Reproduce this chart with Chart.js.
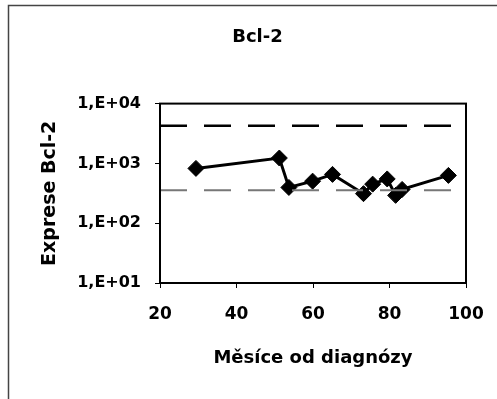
<!DOCTYPE html>
<html>
<head>
<meta charset="utf-8">
<script src="https://cdn.jsdelivr.net/npm/chart.js@4"></script>
<style>
	html, body { margin: 0; padding: 0; background: #fff; }
	#wrap { width: 497px; height: 399px; }
</style>
</head>
<body>
<div id="wrap"><canvas id="chart" width="497" height="399"></canvas></div>
<script>
const months = [29.4, 51.2, 53.7, 59.9, 65.1, 73.2, 75.6, 79.4, 81.6, 83.3, 95.4];
const expression = [825, 1230, 396, 505, 655, 312, 450, 550, 292, 367, 630];
const upperLimit = 4250;
const lowerLimit = 357;
const xTicks = [20, 40, 60, 80, 100];
const yTicks = [10, 100, 1000, 10000];
const yTickLabels = ["1,E+01", "1,E+02", "1,E+03", "1,E+04"];

const FONT = "'DejaVu Sans', sans-serif";

const points = months.map((m, i) => ({ x: m, y: expression[i] }));
const limitLine = (v) => [
	{ x: xTicks[0], y: v },
	{ x: xTicks[xTicks.length - 1], y: v },
];

// frame around the whole picture and box around the plot
const framePlugin = {
	id: "frames",
	beforeDraw(chart) {
		const ctx = chart.ctx;
		ctx.save();
		ctx.strokeStyle = "#444";
		ctx.lineWidth = 1.5;
		ctx.beginPath();
		ctx.moveTo(8.5, 399);
		ctx.lineTo(8.5, 5.5);
		ctx.lineTo(497, 5.5);
		ctx.stroke();
		ctx.restore();
	},
	afterDatasetsDraw(chart) {
		const { left, top, right, bottom } = chart.chartArea;
		const ctx = chart.ctx;
		ctx.save();
		ctx.strokeStyle = "#000";
		ctx.lineWidth = 2;
		ctx.strokeRect(left, top, right - left, bottom - top);
		ctx.restore();
	},
};

new Chart(document.getElementById("chart"), {
	type: "scatter",
	data: {
		datasets: [
			{
				data: limitLine(upperLimit),
				showLine: true,
				borderColor: "#000",
				borderWidth: 2.5,
				borderDash: [27, 17],
				pointRadius: 0,
			},
			{
				data: limitLine(lowerLimit),
				showLine: true,
				borderColor: "#777",
				borderWidth: 2,
				borderDash: [27, 17],
				pointRadius: 0,
			},
			{
				data: points,
				showLine: true,
				borderColor: "#000",
				borderWidth: 3,
				pointStyle: "rectRot",
				pointRadius: 8,
				pointBackgroundColor: "#000",
				pointBorderColor: "#000",
				pointBorderWidth: 1,
			},
		],
	},
	options: {
		responsive: false,
		animation: false,
		layout: { padding: { left: 18, right: 0, top: 0, bottom: 0 } },
		plugins: {
			legend: { display: false },
			tooltip: { enabled: false },
			title: {
				display: true,
				text: "Bcl-2",
				color: "#000",
				font: { family: FONT, size: 18, weight: "bold" },
				padding: { top: 27, bottom: 55 },
			},
		},
		scales: {
			x: {
				type: "linear",
				min: 20,
				max: 100,
				afterBuildTicks: (scale) => {
					scale.ticks = xTicks.map((v) => ({ value: v }));
				},
				afterFit: (scale) => {
					scale.height = 116;
					// leave the same empty strip on the right as the reference
					scale.paddingRight = 31;
				},
				grid: {
					drawOnChartArea: false,
					drawTicks: true,
					tickLength: 5,
					tickColor: "#000",
				},
				border: { color: "#000", width: 2 },
				ticks: {
					color: "#000",
					padding: 16,
					maxRotation: 0,
					font: { family: FONT, size: 17, weight: "bold" },
				},
				title: {
					display: true,
					text: "Měsíce od diagnózy",
					color: "#000",
					font: { family: FONT, size: 18, weight: "bold" },
					padding: { bottom: 30 },
				},
			},
			y: {
				type: "logarithmic",
				min: 10,
				max: 10000,
				afterBuildTicks: (scale) => {
					scale.ticks = yTicks.map((v) => ({ value: v }));
				},
				afterFit: (scale) => {
					scale.width = 142;
				},
				grid: {
					drawOnChartArea: false,
					drawTicks: true,
					tickLength: 5,
					tickColor: "#000",
				},
				border: { color: "#000", width: 2 },
				ticks: {
					color: "#000",
					padding: 14,
					font: { family: FONT, size: 16, weight: "bold" },
					callback: (v) => yTickLabels[yTicks.indexOf(v)],
				},
				title: {
					display: true,
					text: "Exprese Bcl-2",
					color: "#000",
					font: { family: FONT, size: 19, weight: "bold" },
					padding: { top: 21 },
				},
			},
		},
	},
	plugins: [framePlugin],
});
</script>
</body>
</html>
